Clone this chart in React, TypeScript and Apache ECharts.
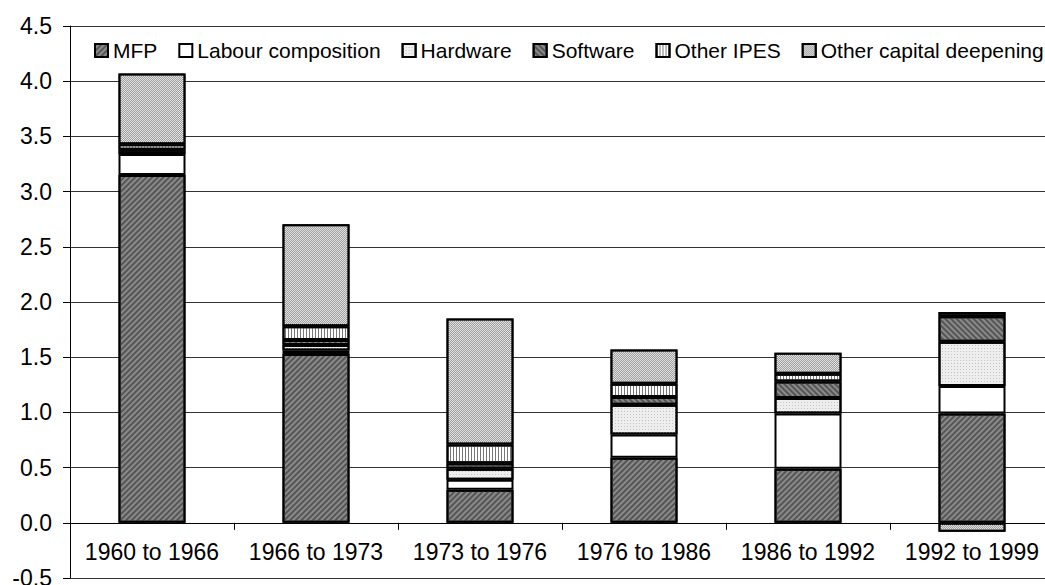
import React, { useEffect, useRef } from "react";
import * as echarts from "echarts";

const categories = ["1960 to 1966", "1966 to 1973", "1973 to 1976", "1976 to 1986", "1986 to 1992", "1992 to 1999"];
const mfp = [3.15, 1.53, 0.3, 0.59, 0.49, 0.99];
const labour = [0.19, 0.03, 0.09, 0.21, 0.5, 0.25];
const hardware = [0.02, 0.05, 0.1, 0.27, 0.14, 0.4];
const software = [0.02, 0.045, 0.05, 0.07, 0.15, 0.23];
const otherIpes = [0.05, 0.125, 0.17, 0.12, 0.07, 0.04];
const otherCapital = [0.64, 0.925, 1.14, 0.31, 0.19, -0.08];
const yTicks = { min: -0.5, max: 4.5, interval: 0.5 };

const FONT = "'Liberation Sans', Arial, sans-serif";

export default function App() {
  const ref = useRef<HTMLDivElement>(null);
  useEffect(() => {
    if (!ref.current) return;
    const chart = echarts.init(ref.current, null, { renderer: "svg" });
    const border = { borderColor: "#000", borderWidth: 2 };
    const mk = (name: string, data: number[], itemStyle: any) => ({
      name,
      type: "bar",
      stack: "total",
      data,
      barWidth: 67,
      itemStyle: { ...border, ...itemStyle },
      emphasis: { disabled: true },
    });
    chart.setOption({
      animation: false,
      textStyle: { fontFamily: FONT, color: "#000" },
      legend: {
        left: 89,
        top: 35,
        width: 1000,
        itemWidth: 13,
        itemHeight: 13,
        itemGap: 21,
        icon: "rect",
        textStyle: { fontSize: 21, color: "#000", fontFamily: FONT },
        itemStyle: { borderColor: "#000", borderWidth: 2 },
        data: ["MFP", "Labour composition", "Hardware", "Software", "Other IPES", "Other capital deepening"],
      },
      grid: { left: 70, right: -9, top: 26, bottom: 7, containLabel: false, outerBoundsMode: "none" },
      xAxis: {
        type: "category",
        data: categories,
        axisLine: { onZero: true, lineStyle: { color: "#000", width: 1 } },
        axisTick: { show: true, length: 7, inside: false, interval: 0, lineStyle: { color: "#000" } },
        axisLabel: { fontSize: 23, color: "#000", margin: -38, interval: 0, hideOverlap: false, fontFamily: FONT },
        splitLine: { show: false },
      },
      yAxis: {
        type: "value",
        min: yTicks.min,
        max: yTicks.max,
        interval: yTicks.interval,
        axisLine: { show: true, lineStyle: { color: "#000", width: 1 } },
        axisTick: { show: true, length: 7, lineStyle: { color: "#000" } },
        axisLabel: { fontSize: 23, color: "#000", margin: 18, fontFamily: FONT, formatter: (v: number) => v.toFixed(1) },
        splitLine: { show: true, lineStyle: { color: "#333", width: 1 } },
      },
      series: [
        mk("MFP", mfp, {
          color: "#8a8a8a",
          decal: { symbol: "rect", symbolSize: 1, dashArrayX: [1, 0], dashArrayY: [2, 2], rotation: -Math.PI / 4, color: "#555555" },
        }),
        mk("Labour composition", labour, { color: "#ffffff" }),
        mk("Hardware", hardware, {
          color: "#eeeeee",
          decal: { symbol: "rect", symbolSize: 1, dashArrayX: [1, 2], dashArrayY: [1, 2], rotation: 0, color: "#c4c4c4" },
        }),
        mk("Software", software, {
          color: "#8a8a8a",
          decal: { symbol: "rect", symbolSize: 1, dashArrayX: [1, 0], dashArrayY: [2, 2], rotation: Math.PI / 4, color: "#555555" },
        }),
        mk("Other IPES", otherIpes, {
          color: "#ffffff",
          decal: { symbol: "rect", symbolSize: 1, dashArrayX: [1, 2], dashArrayY: [1, 0], rotation: 0, color: "#777777" },
        }),
        mk("Other capital deepening", otherCapital, {
          color: "#e0e0e0",
          decal: { symbol: "rect", symbolSize: 1, dashArrayX: [[1, 1], [0, 1, 1, 0]], dashArrayY: [1, 0], rotation: 0, color: "#a0a0a0" },
        }),
      ],
    });
    return () => chart.dispose();
  }, []);
  return (
    <div style={{ position: "absolute", left: 0, top: 0, width: 1045, height: 585, overflow: "hidden", background: "#fff" }}>
      <div ref={ref} style={{ width: 1045, height: 585 }} />
    </div>
  );
}
